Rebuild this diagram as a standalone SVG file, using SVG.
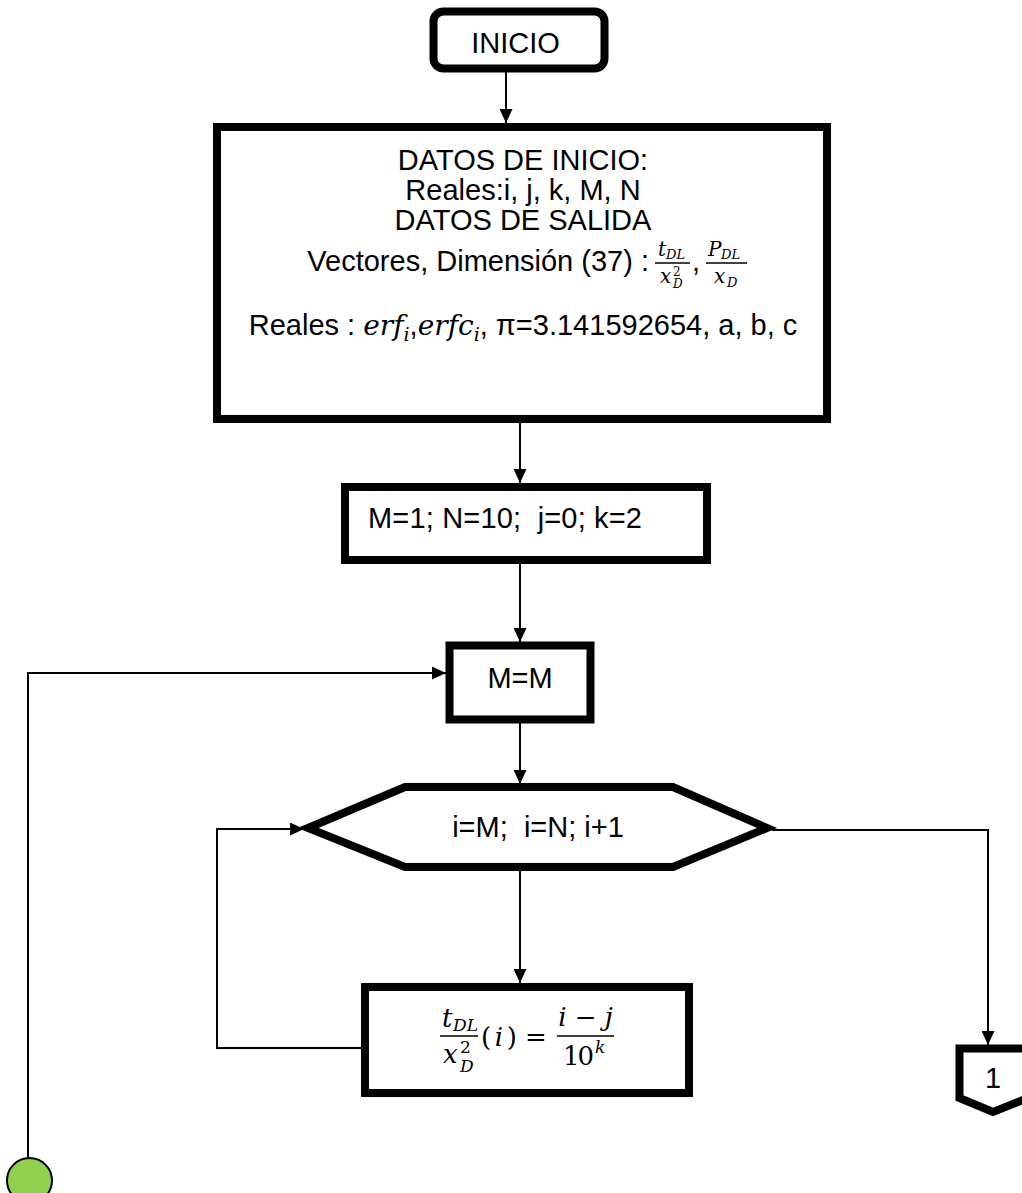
<svg xmlns="http://www.w3.org/2000/svg" width="1022" height="1193" viewBox="0 0 1022 1193">
<style>
.t{font-family:"Liberation Sans",Arial,sans-serif;font-size:29px;fill:#000;white-space:pre}
.m{font-family:"DejaVu Serif","Liberation Serif",serif;font-style:italic;fill:#000}
.mn{font-family:"DejaVu Serif","Liberation Serif",serif;font-style:normal;fill:#000}
.box{fill:#fff;stroke:#000;stroke-width:8}
.ln{fill:none;stroke:#000;stroke-width:2}
.bar{stroke:#000;stroke-width:1.6}
</style>
<defs>
<marker id="ah" viewBox="0 0 14 13" refX="14" refY="6.5" markerWidth="14" markerHeight="13" markerUnits="userSpaceOnUse" orient="auto"><path d="M0,0 L14,6.5 L0,13 z" fill="#000"/></marker>
</defs>
<rect width="1022" height="1193" fill="#fff"/>
<g id="connectors">
<path class="ln" d="M506,72 V123" marker-end="url(#ah)"/>
<path class="ln" d="M520,423 V483" marker-end="url(#ah)"/>
<path class="ln" d="M520,564 V642" marker-end="url(#ah)"/>
<path class="ln" d="M520,723 V784" marker-end="url(#ah)"/>
<path class="ln" d="M520,870 V983" marker-end="url(#ah)"/>
<path class="ln" d="M361,1048 H217 V829 H304" marker-end="url(#ah)"/>
<path class="ln" d="M772,830 H988 V1045" marker-end="url(#ah)"/>
<path class="ln" d="M28,1158 V673 H446" marker-end="url(#ah)"/>
</g>
<g id="inicio">
<rect x="433.5" y="11.5" width="171" height="57" rx="10" class="box" stroke-width="7"/>
<text x="515.5" y="53" text-anchor="middle" class="t" font-size="28">INICIO</text>
</g>
<g id="datos">
<rect x="217" y="127" width="610" height="292" class="box"/>
<text x="523" y="170" text-anchor="middle" class="t">DATOS DE INICIO:</text>
<text x="523" y="200" text-anchor="middle" class="t">Reales:i, j, k, M, N</text>
<text x="523" y="230" text-anchor="middle" class="t">DATOS DE SALIDA</text>
<text x="649" y="271" text-anchor="end" class="t">Vectores, Dimensión (37) :</text>
<text x="658" y="256" class="m" font-size="20">t</text>
<text x="666" y="259" class="m" font-size="13">DL</text>
<line x1="655" y1="263" x2="690" y2="263" class="bar"/>
<text x="660" y="283" class="m" font-size="20">x</text>
<text x="673" y="276" class="mn" font-size="12">2</text>
<text x="673" y="288" class="m" font-size="12">D</text>
<text x="692" y="271" class="t">,</text>
<text x="708" y="256" class="m" font-size="20">P</text>
<text x="721" y="259" class="m" font-size="13">DL</text>
<line x1="706" y1="263" x2="747" y2="263" class="bar"/>
<text x="714" y="283" class="m" font-size="20">x</text>
<text x="727" y="287" class="m" font-size="13">D</text>
<text x="523" y="335" text-anchor="middle" class="t">Reales : <tspan class="m" font-size="28">erf</tspan><tspan class="m" font-size="19" dy="6">i</tspan><tspan dy="-6">,</tspan><tspan class="m" font-size="28">erfc</tspan><tspan class="m" font-size="19" dy="6">i</tspan><tspan dy="-6">, π=3.141592654, a, b, c</tspan></text>
</g>
<g id="init">
<rect x="345" y="487" width="362" height="73" class="box"/>
<text x="368" y="528" class="t" textLength="274">M=1; N=10;  j=0; k=2</text>
</g>
<g id="mm">
<rect x="449.5" y="645.5" width="141" height="74" class="box" stroke-width="7"/>
<text x="520" y="688" text-anchor="middle" class="t">M=M</text>
</g>
<g id="loop">
<polygon points="308,828 405,787 673,787 767,828 673,867 405,867" class="box"/>
<text x="538" y="837" text-anchor="middle" class="t">i=M;  i=N; i+1</text>
</g>
<g id="formula">
<rect x="365" y="987" width="324" height="106" class="box"/>
<text x="442" y="1027" class="m" font-size="26">t</text>
<text x="453" y="1031" class="m" font-size="17">DL</text>
<line x1="440" y1="1036" x2="478" y2="1036" class="bar" stroke-width="1.8"/>
<text x="443" y="1063" class="m" font-size="26">x</text>
<text x="460" y="1053" class="mn" font-size="17">2</text>
<text x="460" y="1072" class="m" font-size="17">D</text>
<text x="481" y="1046" class="mn" font-size="26" textLength="36">(<tspan class="m">i</tspan>)</text>
<text x="525" y="1046" class="mn" font-size="26" textLength="22">=</text>
<text x="585.5" y="1026" class="m" font-size="26" text-anchor="middle">i <tspan class="mn">−</tspan> j</text>
<line x1="557" y1="1036" x2="614" y2="1036" class="bar" stroke-width="1.8"/>
<text x="563" y="1065" class="mn" font-size="26" textLength="31">10</text>
<text x="595" y="1053" class="m" font-size="17">k</text>
</g>
<g id="conn1">
<polygon points="959.5,1048.5 1028,1048.5 1028,1098 993,1112 959.5,1098" class="box" stroke-width="7"/>
<text x="993" y="1088" text-anchor="middle" class="t" font-size="28">1</text>
</g>
<g id="end">
<circle cx="29.5" cy="1180.5" r="22.5" fill="#92D050" stroke="#000" stroke-width="2"/>
</g>
</svg>
